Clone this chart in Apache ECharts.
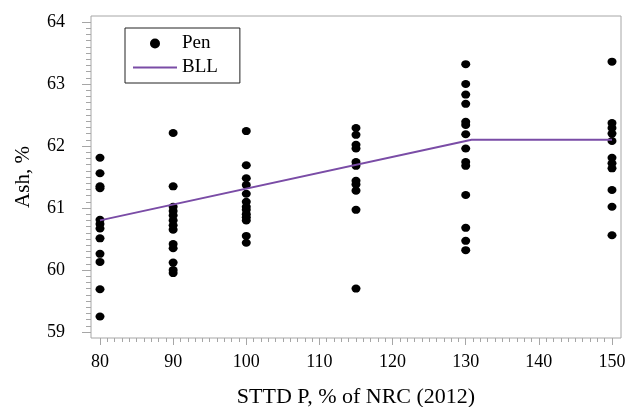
<!DOCTYPE html>
<html>
<head>
<meta charset="utf-8">
<script src="https://cdn.jsdelivr.net/npm/echarts@6/dist/echarts.min.js"></script>
<style>
html,body{margin:0;padding:0;background:#fff;}
#chart{width:627px;height:407px;}
</style>
</head>
<body>
<div id="chart"></div>
<script>
// ---- data ----
const xLevels = [80, 90, 100, 115, 130, 150];
const ash80  = [61.81, 61.56, 61.35, 61.32, 60.81, 60.74, 60.67, 60.51, 60.26, 60.13, 59.69, 59.25];
const ash90  = [62.21, 61.35, 61.02, 60.95, 60.88, 60.80, 60.72, 60.65, 60.42, 60.35, 60.12, 60.00, 59.95];
const ash100 = [62.24, 61.69, 61.48, 61.37, 61.23, 61.10, 61.02, 60.97, 60.90, 60.85, 60.80, 60.55, 60.44];
const ash115 = [62.29, 62.18, 62.02, 61.96, 61.74, 61.68, 61.44, 61.38, 61.28, 60.97, 59.70];
const ash130 = [63.32, 63.00, 62.83, 62.68, 62.39, 62.34, 62.19, 61.96, 61.74, 61.68, 61.21, 60.68, 60.47, 60.32];
const ash150 = [63.36, 62.37, 62.29, 62.20, 62.08, 61.81, 61.72, 61.64, 61.29, 61.02, 60.56];
const ashByLevel = [ash80, ash90, ash100, ash115, ash130, ash150];
const bllX = [80, 130.8, 150];
const bllY = [60.80, 62.10, 62.10];
const xTickLabels = [80, 90, 100, 110, 120, 130, 140, 150];
const yTickLabels = [59, 60, 61, 62, 63, 64];
const xMinorTicks = [];
for (let v = 80; v <= 150; v += 1) xMinorTicks.push(v);
const yMinorTicks = [];
for (let i = 590; i <= 640; i += 1) yMinorTicks.push(i / 10);

const penData = [];
xLevels.forEach((x, i) => ashByLevel[i].forEach(y => penData.push([x, y])));
const bllData = bllX.map((x, i) => [x, bllY[i]]);

const font = 'Liberation Serif';
const gray = '#a6a6a6';
const purple = '#7a4ca6';

const chart = echarts.init(document.getElementById('chart'), null, {renderer: 'canvas'});
chart.setOption({
  animation: false,
  backgroundColor: '#fff',
  grid: {left: 91, right: 6, top: 16, bottom: 69, show: true, borderColor: gray, borderWidth: 1,
         backgroundColor: 'transparent', outerBoundsMode: 'none', containLabel: false},
  legend: {
    orient: 'vertical', left: 125, top: 28,
    borderColor: '#222', borderWidth: 1,
    padding: [6, 22, 6, 7],
    itemWidth: 44, itemHeight: 10, itemGap: 5,
    textStyle: {fontFamily: font, fontSize: 19, color: '#000', lineHeight: 18},
    data: [
      {name: 'Pen', icon: 'circle', itemStyle: {color: '#000', opacity: 1}},
      {name: 'BLL', itemStyle: {opacity: 0}, lineStyle: {color: purple, width: 2, opacity: 1}}
    ]
  },
  xAxis: [{
    type: 'value', min: 78.77, max: 151.23,
    name: 'STTD P, % of NRC (2012)', nameLocation: 'middle', nameGap: 48,
    nameTextStyle: {fontFamily: font, fontSize: 22, color: '#000'},
    axisLine: {show: false},
    splitLine: {show: false},
    axisTick: {show: true, length: 7, customValues: xTickLabels, lineStyle: {color: gray}},
    axisLabel: {customValues: xTickLabels, margin: 15, fontFamily: font, fontSize: 18, color: '#000'}
  }, {
    type: 'value', min: 78.77, max: 151.23, position: 'bottom',
    axisLine: {show: false}, splitLine: {show: false},
    axisTick: {show: true, length: 4, customValues: xMinorTicks, lineStyle: {color: gray}},
    axisLabel: {show: false}
  }],
  yAxis: [{
    type: 'value', min: 58.903, max: 64.097,
    name: 'Ash, %', nameLocation: 'middle', nameGap: 57, nameRotate: 90,
    nameTextStyle: {fontFamily: font, fontSize: 21, color: '#000'},
    axisLine: {show: false}, splitLine: {show: false},
    axisTick: {show: true, length: 9, customValues: yTickLabels, lineStyle: {color: gray}},
    axisLabel: {customValues: yTickLabels, margin: 26, fontFamily: font, fontSize: 18, color: '#000'}
  }, {
    type: 'value', min: 58.903, max: 64.097, position: 'left',
    axisLine: {show: false}, splitLine: {show: false},
    axisTick: {show: true, length: 5, customValues: yMinorTicks, lineStyle: {color: gray}},
    axisLabel: {show: false}
  }],
  series: [{
    name: 'Pen', type: 'scatter', data: penData,
    symbol: 'circle', symbolSize: [9, 8],
    itemStyle: {color: '#000', opacity: 1}
  }, {
    name: 'BLL', type: 'line', data: bllData,
    symbol: 'none', lineStyle: {color: purple, width: 2},
    itemStyle: {color: purple}
  }]
});
</script>
</body>
</html>
